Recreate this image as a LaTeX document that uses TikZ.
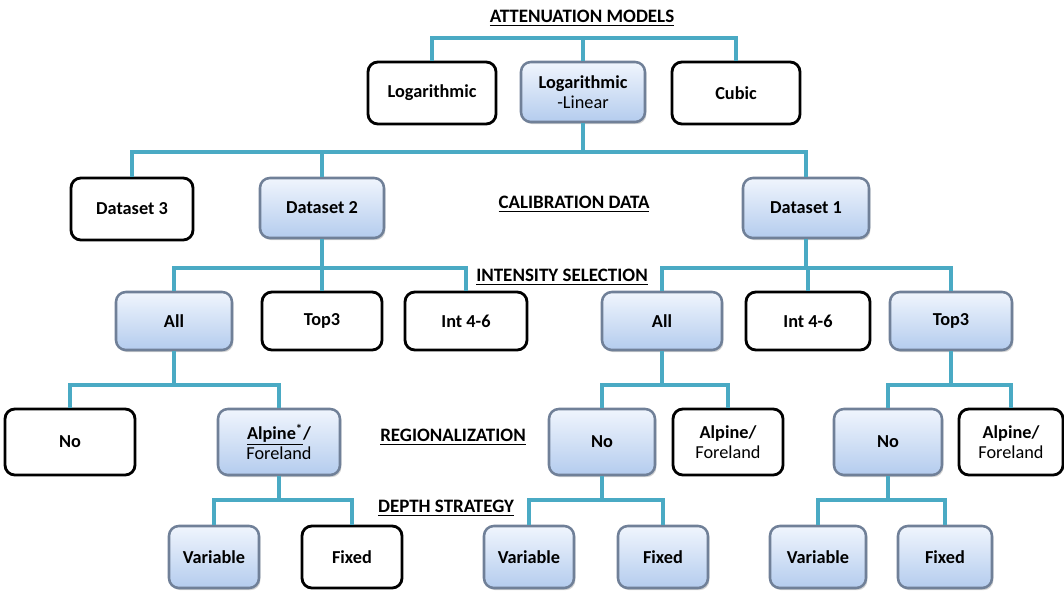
\documentclass[tikz,border=0pt]{standalone}
\usepackage{fontspec}
\setmainfont{Carlito}
\usetikzlibrary{shadows}
\definecolor{linkteal}{RGB}{74,170,196}
\definecolor{boxedge}{RGB}{112,128,152}
\definecolor{boxtop}{RGB}{240,245,253}
\definecolor{boxbot}{RGB}{180,204,238}
\tikzset{
  plainbox/.style={draw=black, line width=2pt, rounded corners=7pt, fill=white,
    align=center, font=\fontsize{13}{14}\selectfont\bfseries, inner sep=2pt},
  bluebox/.style={draw=boxedge, line width=1.8pt, rounded corners=7pt,
    top color=boxtop, bottom color=boxbot,
    drop shadow={opacity=0.35, shadow xshift=1pt, shadow yshift=-1.5pt},
    align=center, font=\fontsize{13}{14}\selectfont\bfseries, inner sep=2pt},
  levelname/.style={font=\fontsize{13.5}{14}\selectfont\bfseries, inner sep=1pt},
  link/.style={draw=linkteal, line width=2.2pt}
}

\begin{document}
\begin{tikzpicture}
		%%%%% START %%%%%
		\useasboundingbox (0,0) rectangle (26.6,-14.775);
		
		% bus heights
		\coordinate (b0) at (0,-0.95);
		\coordinate (b1) at (0,-3.8);
		\coordinate (b2) at (0,-6.7);
		\coordinate (b3) at (0,-9.625);
		\coordinate (b4) at (0,-12.5);
		
		% level names
		\node[levelname] (attn) at (14.55,-0.45) {\underline{ATTENUATION MODELS}};
		\node[levelname] (calib) at (14.35,-5.1) {\underline{CALIBRATION DATA}};
		\node[levelname] (intsel) at (14.05,-6.925) {\underline{INTENSITY SELECTION}};
		\node[levelname] (regio) at (11.325,-10.925) {\underline{REGIONALIZATION}};
		\node[levelname] (depth) at (11.15,-12.7) {\underline{DEPTH STRATEGY}};
		
		% attenuation models
		\node[plainbox, minimum width=3.2cm, minimum height=1.55cm] (logr) at (10.8,-2.325) {Logarithmic};
		\node[bluebox, minimum width=3.1cm, minimum height=1.5cm] (loglin) at (14.575,-2.3) {Logarithmic\\{\mdseries -Linear}};
		\node[plainbox, minimum width=3.2cm, minimum height=1.55cm] (cubic) at (18.4,-2.325) {Cubic};
		
		% calibration data
		\node[plainbox, minimum width=3.05cm, minimum height=1.55cm] (ds3) at (3.3,-5.225) {Dataset 3};
		\node[bluebox, minimum width=3.1cm, minimum height=1.5cm] (ds2) at (8.05,-5.2) {Dataset 2};
		\node[bluebox, minimum width=3.15cm, minimum height=1.5cm] (ds1) at (20.15,-5.2) {Dataset 1};
		
		% intensity selection
		\node[bluebox, minimum width=2.9cm, minimum height=1.45cm] (allA) at (4.35,-8.025) {All};
		\node[plainbox, minimum width=3.0cm, minimum height=1.45cm] (topA) at (8.05,-8.025) {Top3};
		\node[plainbox, minimum width=3.05cm, minimum height=1.45cm] (intA) at (11.65,-8.025) {Int 4-6};
		\node[bluebox, minimum width=3.0cm, minimum height=1.45cm] (allB) at (16.55,-8.025) {All};
		\node[plainbox, minimum width=3.1cm, minimum height=1.45cm] (intB) at (20.2,-8.025) {Int 4-6};
		\node[bluebox, minimum width=3.05cm, minimum height=1.45cm] (topB) at (23.775,-8.025) {Top3};
		
		% regionalization
		\node[plainbox, minimum width=3.25cm, minimum height=1.65cm] (noA) at (1.75,-11.05) {No};
		\node[bluebox, minimum width=3.05cm, minimum height=1.65cm] (alpA) at (6.975,-11.05) {\underline{Alpine\textsuperscript{*}}/\\{\mdseries Foreland}};
		\node[bluebox, minimum width=2.65cm, minimum height=1.65cm] (noB) at (15.05,-11.05) {No};
		\node[plainbox, minimum width=2.75cm, minimum height=1.65cm] (alpB) at (18.2,-11.05) {Alpine/\\{\mdseries Foreland}};
		\node[bluebox, minimum width=2.7cm, minimum height=1.65cm] (noC) at (22.2,-11.05) {No};
		\node[plainbox, minimum width=2.6cm, minimum height=1.65cm] (alpC) at (25.275,-11.05) {Alpine/\\{\mdseries Foreland}};
		
		% depth strategy
		\node[bluebox, minimum width=2.25cm, minimum height=1.55cm] (varA) at (5.35,-13.925) {Variable};
		\node[plainbox, minimum width=2.5cm, minimum height=1.55cm] (fixA) at (8.8,-13.925) {Fixed};
		\node[bluebox, minimum width=2.25cm, minimum height=1.55cm] (varB) at (13.225,-13.925) {Variable};
		\node[bluebox, minimum width=2.25cm, minimum height=1.55cm] (fixB) at (16.575,-13.925) {Fixed};
		\node[bluebox, minimum width=2.4cm, minimum height=1.55cm] (varC) at (20.45,-13.925) {Variable};
		\node[bluebox, minimum width=2.35cm, minimum height=1.55cm] (fixC) at (23.625,-13.925) {Fixed};
		
		% connectors
		\draw[link] (logr.north) |- (cubic.north |- b0) -- (cubic.north);
		\draw[link] (loglin.north) -- (loglin.north |- b0);
		
		\draw[link] (loglin.south) -- (loglin.south |- b1);
		\draw[link] (ds3.north) |- (ds1.north |- b1) -- (ds1.north);
		\draw[link] (ds2.north) -- (ds2.north |- b1);
		
		\draw[link] (ds2.south) -- (topA.north);
		\draw[link] (allA.north) |- (intA.north |- b2) -- (intA.north);
		\draw[link] (ds1.south) -- (ds1.south |- b2);
		\draw[link] (allB.north) |- (topB.north |- b2) -- (topB.north);
		\draw[link] (intB.north) -- (intB.north |- b2);
		
		\draw[link] (allA.south) -- (allA.south |- b3);
		\draw[link] (noA.north) |- (alpA.north |- b3) -- (alpA.north);
		\draw[link] (allB.south) -- (allB.south |- b3);
		\draw[link] (noB.north) |- (alpB.north |- b3) -- (alpB.north);
		\draw[link] (topB.south) -- (topB.south |- b3);
		\draw[link] (noC.north) |- (alpC.north |- b3) -- (alpC.north);
		
		\draw[link] (alpA.south) -- (alpA.south |- b4);
		\draw[link] (varA.north) |- (fixA.north |- b4) -- (fixA.north);
		\draw[link] (noB.south) -- (noB.south |- b4);
		\draw[link] (varB.north) |- (fixB.north |- b4) -- (fixB.north);
		\draw[link] (noC.south) -- (noC.south |- b4);
		\draw[link] (varC.north) |- (fixC.north |- b4) -- (fixC.north);
		
		%%%%% END %%%%%
	\end{tikzpicture}
\end{document}
